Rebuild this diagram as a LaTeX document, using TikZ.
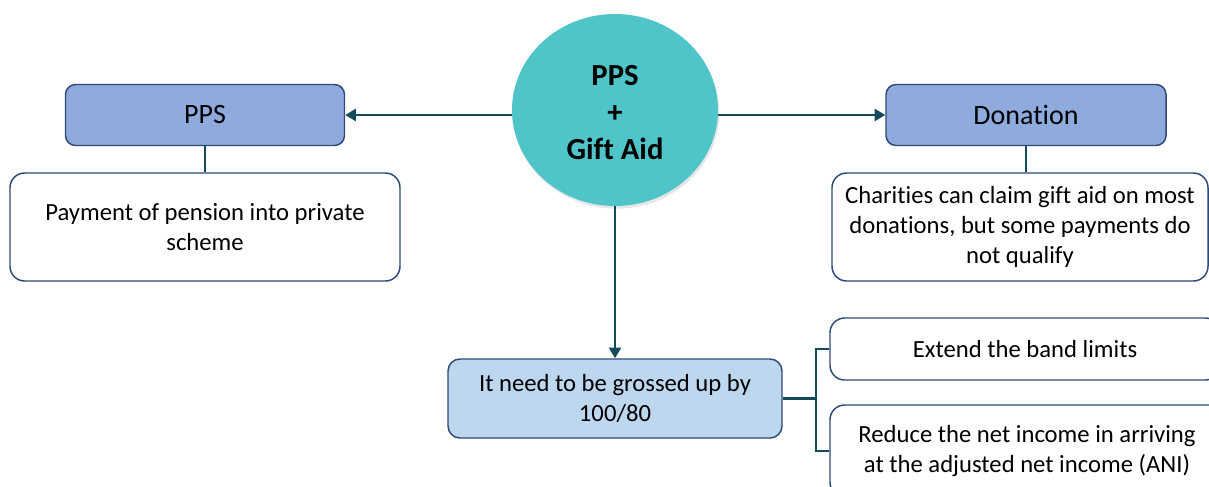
\documentclass[tikz,border=0pt]{standalone}
\usepackage{fontspec}
\setmainfont{Carlito}[RawFeature={-liga;-clig;-calt;-dlig}]
\usetikzlibrary{arrows.meta,shapes.geometric,shadows}
\definecolor{hubteal}{HTML}{4FC5CA}
\definecolor{headfill}{HTML}{8FAADC}
\definecolor{notefill}{HTML}{BDD7EE}
\definecolor{boxline}{HTML}{2F4A78}
\definecolor{linkcol}{HTML}{134B5B}
\begin{document}
\begin{tikzpicture}[x=0.75pt,y=-0.75pt,
  headbox/.style={draw=boxline,line width=1.1pt,fill=headfill,rounded corners=7.5pt,
    inner sep=0pt,font=\fontsize{21}{25}\selectfont},
  notebox/.style={draw=boxline,line width=1.1pt,fill=white,rounded corners=11pt,
    inner sep=0pt,align=center,font=\fontsize{18.5}{22.5}\selectfont},
  link/.style={draw=linkcol,line width=1.9pt},
  arrowlink/.style={link,-{Triangle[length=8pt,width=9pt]}}]
\useasboundingbox (0,0) rectangle (1209,486);
\clip (0,0) rectangle (1209,486);

% central hub
\node[ellipse,fill=hubteal,minimum width=154.5pt,minimum height=144pt,inner sep=0pt,
  drop shadow={opacity=0.2,shadow xshift=1pt,shadow yshift=-2pt}] (hub) at (615,110) {};
\node[align=center,font=\bfseries\fontsize{23}{27.75}\selectfont] (hubtext) at (615,113)
  {PPS\\+\\Gift Aid};

% left branch
\node[headbox,minimum width=209.25pt,minimum height=45.75pt] (pps) at (205,115) {PPS};
\node[notebox,minimum width=292.5pt,minimum height=81pt] (ppsnote) at (205,227)
  {Payment of pension into private\\scheme};

% right branch
\node[headbox,minimum width=210pt,minimum height=45.75pt] (don) at (1026,115) {Donation};
\node[notebox,minimum width=282pt,minimum height=81pt] (donnote) at (1020,227)
  {Charities can claim gift aid on most\\donations, but some payments do\\not qualify};

% lower branch
\node[notebox,fill=notefill,rounded corners=9pt,minimum width=250.5pt,minimum height=59.25pt]
  (gross) at (615,398.5) {It need to be grossed up by\\100/80};
\node[notebox,minimum width=292.5pt,minimum height=46.5pt] (extend) at (1025,349)
  {Extend the band limits};
\node[notebox,minimum width=295.5pt,minimum height=69pt] (reduce) at (1027,451)
  {Reduce the net income in arriving\\at the adjusted net income (ANI)};

% connectors
\draw[arrowlink] (pps.east -| hub.west) -- (pps.east);
\draw[arrowlink] (don.west -| hub.east) -- (don.west);
\draw[arrowlink] (hub.south) -- (gross.north);
\draw[link] (pps.south) -- (ppsnote.north);
\draw[link] (don.south) -- (don.south |- donnote.north);
\coordinate (fork) at ([xshift=25]gross.east);
\draw[link] (gross.east) -- (fork);
\draw[link] (extend.west) -| (fork) |- (reduce.west);
\end{tikzpicture}
\end{document}
